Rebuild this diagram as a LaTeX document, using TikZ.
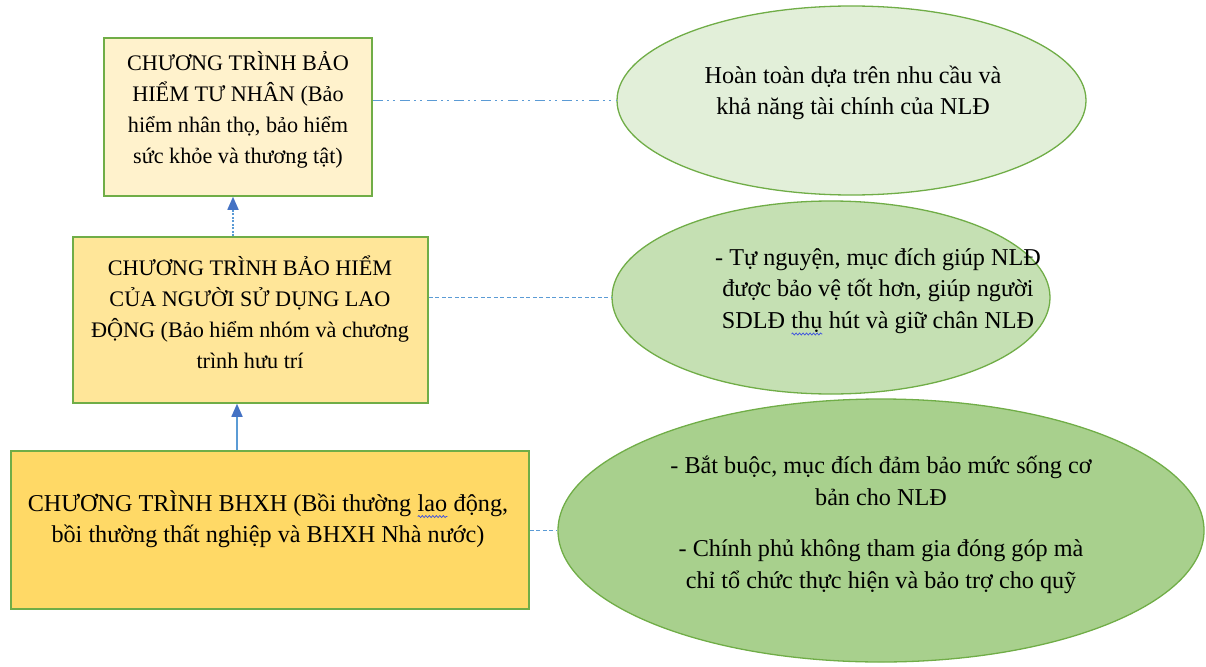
\documentclass[tikz,border=0pt]{standalone}
\usepackage{fontspec}
\setmainfont{Liberation Serif}
\usetikzlibrary{shapes.geometric,arrows.meta,calc,decorations.pathmorphing}

\definecolor{boxedge}{HTML}{70AD47}
\definecolor{fillA}{HTML}{FFF2CC}
\definecolor{fillB}{HTML}{FFE699}
\definecolor{fillC}{HTML}{FFD966}
\definecolor{ovalA}{HTML}{E2EFD9}
\definecolor{ovalB}{HTML}{C5E0B3}
\definecolor{ovalC}{HTML}{A8D08D}
\definecolor{linkblue}{HTML}{5B9BD5}
\definecolor{tipblue}{HTML}{4472C4}
\definecolor{wavyblue}{HTML}{3A4FE0}

% spell-check style wavy underline
\newcommand\spellmark[1]{\tikz[baseline=(w.base)]{%
  \node[inner sep=0pt,outer sep=0pt,anchor=base](w){#1};%
  \draw[wavyblue,line width=0.7pt,decorate,
    decoration={snake,amplitude=1pt,segment length=3.5pt}]
    ([yshift=-5.5pt]w.base west) -- ([yshift=-5.5pt]w.base east);}}

\tikzset{
  prog/.style={draw=boxedge, line width=1.5pt, rectangle, inner sep=0pt},
  oval/.style={draw=boxedge, line width=1.3pt, ellipse, inner sep=0pt},
  small text/.style={align=center, inner sep=0pt,
    font=\fontsize{22.2}{31}\selectfont},
  large text/.style={align=center, inner sep=0pt,
    font=\fontsize{24.2}{31.5}\selectfont},
  link/.style={draw=linkblue, line width=1.6pt},
  uparrow/.style={draw=linkblue, line width=1.6pt,
    -{Triangle[length=13pt,width=11pt,color=tipblue]}},
}

\begin{document}
\begin{tikzpicture}[x=1pt,y=-1pt]
\useasboundingbox (0,0) rectangle (1206,666);

% programme boxes
\node[prog, fill=fillA, minimum width=268pt, minimum height=158pt] (b1) at (238,117) {};
\node[prog, fill=fillB, minimum width=355pt, minimum height=166pt] (b2) at (250.5,320) {};
\node[prog, fill=fillC, minimum width=518pt, minimum height=158pt] (b3) at (270,530) {};

% description ovals
\node[oval, fill=ovalA, minimum width=469pt, minimum height=189pt] (e1) at (851.5,100.5) {};
\node[oval, fill=ovalB, minimum width=438pt, minimum height=193pt] (e2) at (831,297.5) {};
\node[oval, fill=ovalC, minimum width=646pt, minimum height=263pt] (e3) at (881,530.5) {};

% box texts
\node[small text] (t1) at (238,110) {CHƯƠNG TRÌNH BẢO\\HIỂM TƯ NHÂN (Bảo\\hiểm nhân thọ, bảo hiểm\\sức khỏe và thương tật)};
\node[small text] (t2) at (250,312) {CHƯƠNG TRÌNH BẢO HIỂM\\CỦA NGƯỜI SỬ DỤNG LAO\\ĐỘNG (Bảo hiểm nhóm và chương\\trình hưu trí};
\node[large text] (t3) at (268,519) {CHƯƠNG TRÌNH BHXH (Bồi thường \spellmark{lao} động,\\bồi thường thất nghiệp và BHXH Nhà nước)};

% oval texts
\node[large text] (u1) at (853,93) {Hoàn toàn dựa trên nhu cầu và\\khả năng tài chính của NLĐ};
\node[large text] (u2) at (878,292) {- Tự nguyện, mục đích giúp NLĐ\\được bảo vệ tốt hơn, giúp người\\SDLĐ \spellmark{thụ} hút và giữ chân NLĐ};
\node[large text] (u3) at (881,525) {- Bắt buộc, mục đích đảm bảo mức sống cơ\\bản cho NLĐ\\[20pt]- Chính phủ không tham gia đóng góp mà\\chỉ tổ chức thực hiện và bảo trợ cho quỹ};

% links from boxes to ovals
\draw[link, dash pattern=on 10pt off 4pt on 2pt off 4pt on 2pt off 5pt] (b1.east |- e1.west) -- (e1.west);
\draw[link, dash pattern=on 4pt off 2.5pt] (b2.east |- e2.west) -- (e2.west);
\draw[link, dash pattern=on 4pt off 2.5pt] (b3.east |- e3.west) -- (e3.west);

% upward arrows between programme levels
\coordinate (ax) at (237,0);
\coordinate (ay) at (233,0);
\draw[uparrow] (b3.north -| ax) -- (b2.south -| ax);
\draw[uparrow, dash pattern=on 2pt off 1.5pt] (b2.north -| ay) -- (b1.south -| ay);
\end{tikzpicture}
\end{document}
